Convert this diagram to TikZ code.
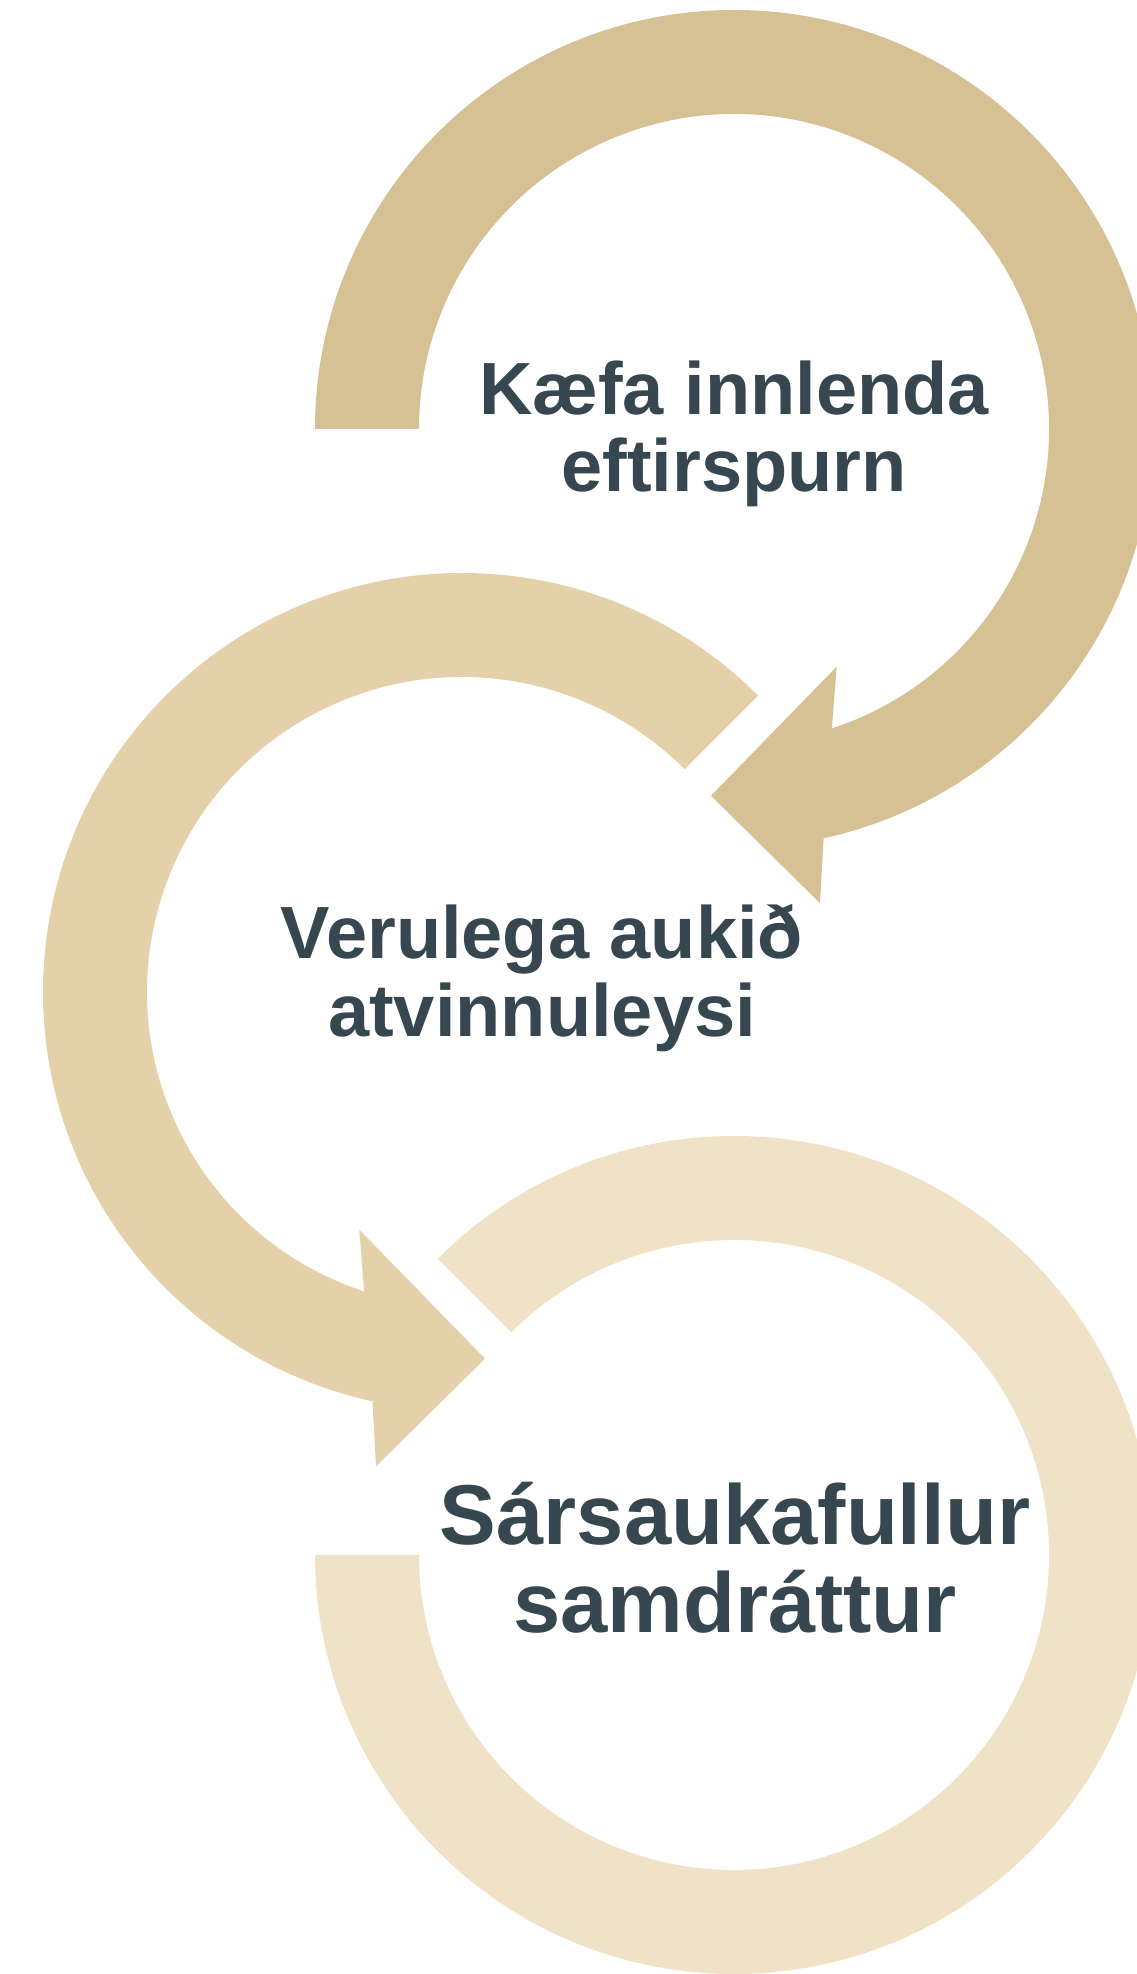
\documentclass[tikz,border=0pt]{standalone}
\usepackage{fontspec}
\setmainfont{Liberation Sans}
\definecolor{arcA}{HTML}{D6C195}
\definecolor{arcB}{HTML}{E4D1AA}
\definecolor{arcC}{HTML}{F0E2C6}
\definecolor{txtcol}{HTML}{37474F}
\begin{document}
\begin{tikzpicture}[x=1pt,y=1pt,
  bandA/.style={fill=arcA},
  bandB/.style={fill=arcB},
  bandC/.style={fill=arcC},
  cyclelabel/.style={text=txtcol, align=center, inner sep=0pt, anchor=base},
  smalltxt/.style={font=\fontsize{74}{77.5}\selectfont\bfseries},
  bigtxt/.style={font=\fontsize{85}{88}\selectfont\bfseries}]
\useasboundingbox (0,0) rectangle (1137,1974);
\clip (0,0) rectangle (1137,1974);
\coordinate (c1) at (734,1545);
\coordinate (c2) at (462,982);
\coordinate (c3) at (734,419);
% third circular arrow (lightest)
\begin{scope}[shift={(c3)}]
  \fill[bandC] (135:419) arc[start angle=135, end angle=-180, radius=419]
    -- (-180:315) arc[start angle=-180, end angle=135, radius=315] -- cycle;
\end{scope}
% second circular arrow
\begin{scope}[shift={(c2)}]
  \fill[bandB] (45:419) arc[start angle=45, end angle=257.65, radius=419]
    -- (-86,-474.3) -- (23,-366.7) -- (-102.7,-237.7)
    -- (251.9:315) arc[start angle=251.9, end angle=45, radius=315] -- cycle;
\end{scope}
% first circular arrow
\begin{scope}[shift={(c1)}]
  \fill[bandA] (180:419) arc[start angle=180, end angle=-77.65, radius=419]
    -- (86,-474.3) -- (-23,-366.7) -- (102.7,-237.7)
    -- (-71.9:315) arc[start angle=-71.9, end angle=180, radius=315] -- cycle;
\end{scope}
\node[cyclelabel, smalltxt] (t1) at (734,1482) {Kæfa innlenda\\eftirspurn};
\node[cyclelabel, smalltxt] (t2) at (542,937.5) {Verulega aukið\\atvinnuleysi};
\node[cyclelabel, bigtxt] (t3) at (735,341.7) {Sársaukafullur\\samdráttur};
\end{tikzpicture}
\end{document}
